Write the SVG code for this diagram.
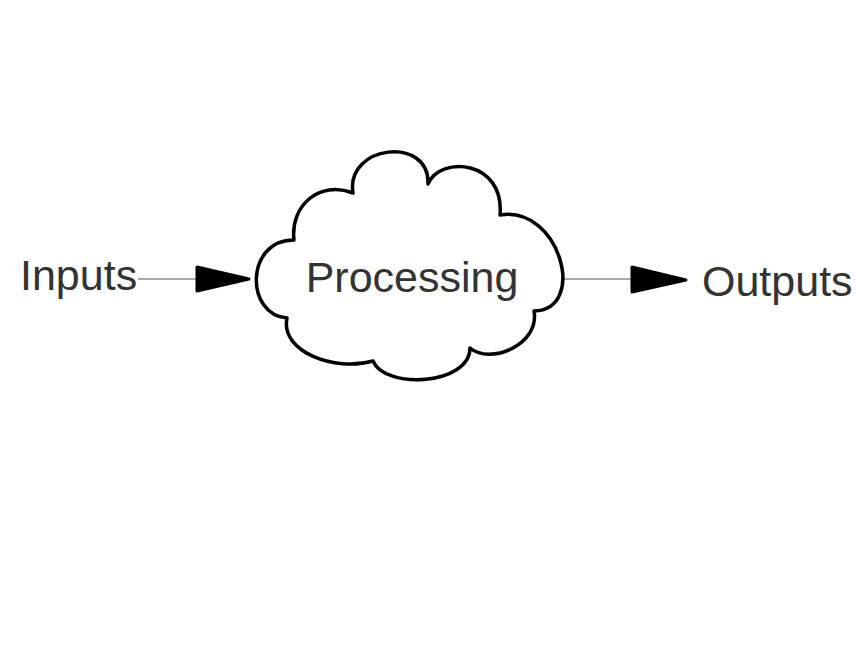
<svg xmlns="http://www.w3.org/2000/svg" width="865" height="652" viewBox="0 0 865 652">
<style>
.lbl{font-family:"Liberation Sans",Arial,sans-serif;font-size:43px;fill:#333333}
.line{stroke:#555555;stroke-width:1.2;fill:none}
.head{fill:#000;stroke:#000;stroke-width:3;stroke-linejoin:round}
.cloud{fill:#fff;stroke:#000;stroke-width:3.5;stroke-linejoin:round}
</style>
<rect width="865" height="652" fill="#fff"/>
<g id="connectors">
<line class="line" x1="138" y1="279" x2="198" y2="279"/>
<polygon class="head" points="197,267 249,279 197,291"/>
<line class="line" x1="563" y1="279" x2="634" y2="279"/>
<polygon class="head" points="632,267 686,280 632,292"/>
</g>
<g id="processing">
<path class="cloud" d="M294,240 C290,205 320,180 353,193 C345,145 430,135 428,184 C440,155 505,160 500,215 C560,205 588,310 534,311 C540,345 490,365 470,348 C470,385 385,390 373,361 C335,372 280,352 287,318 C245,315 245,240 294,240 Z"/>
<text class="lbl" x="412" y="292" text-anchor="middle">Processing</text>
</g>
<g id="inputs">
<text class="lbl" x="20" y="290">Inputs</text>
</g>
<g id="outputs">
<text class="lbl" x="702" y="296">Outputs</text>
</g>
</svg>
